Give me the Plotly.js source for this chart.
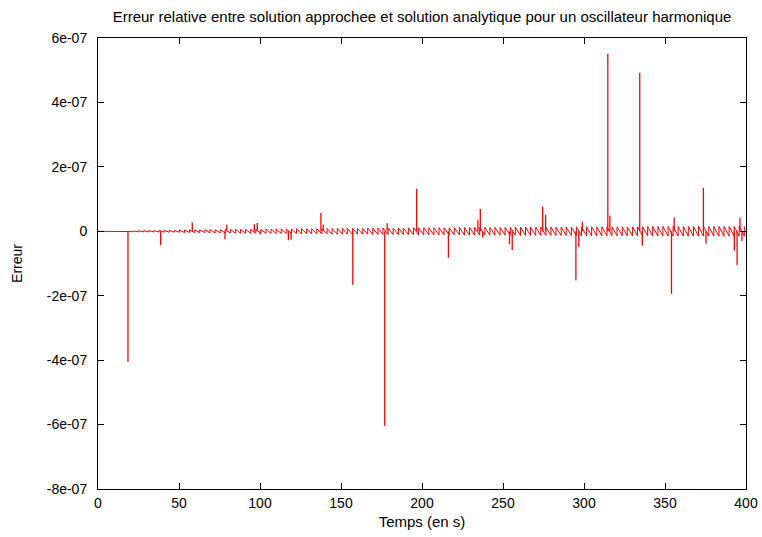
<!DOCTYPE html>
<html>
<head>
<meta charset="utf-8">
<script src="https://cdn.plot.ly/plotly-3.0.1.min.js"></script>
<style>html,body{margin:0;padding:0;background:#fff;}#chart{width:762px;height:537px;}</style>
</head>
<body>
<div id="chart"></div>
<script>
// Values in units of 1e-9 (Erreur), time in seconds
const UNIT = 1e-9;

const waveT = [0,3.1,6.3,9.4,12.6,15.7,18.8,22.0,25.1,28.3,31.4,34.5,37.7,40.8,44.0,47.1,50.3,53.4,56.5,59.7,
62.8,66.0,69.1,72.3,75.4,78.5,81.7,84.8,88.0,91.1,94.2,97.4,100.5,103.7,106.8,110.0,113.1,116.2,119.4,122.5,
125.7,128.8,131.9,135.1,138.2,141.4,144.5,147.7,150.8,153.9,157.1,160.2,163.4,166.5,169.6,172.8,175.9,179.1,182.2,185.4,
188.5,191.6,194.8,197.9,201.1,204.2,207.3,210.5,213.6,216.8,219.9,223.1,226.2,229.3,232.5,235.6,238.8,241.9,245.0,248.2,
251.3,254.5,257.6,260.8,263.9,267.0,270.2,273.3,276.5,279.6,282.7,285.9,289.0,292.2,295.3,298.5,301.6,304.7,307.9,311.0,
314.2,317.3,320.4,323.6,326.7,329.9,333.0,336.2,339.3,342.4,345.6,348.7,351.9,355.0,358.1,361.3,364.4,367.6,370.7,373.8,
377.0,380.1,383.3,386.4,389.6,392.7,395.8,399.0];

const waveHi = [0,0,0,1,1,1, 1,1,2, 2,2,2,3, 3,3,3,4,4,4, 4,4,5,5,5,5,5,6,6,6,6,6,6,
6,7,7,7,7,7,7,8,8,8,8,8,8,9,9,9, 9,9,9,9,9,10,10,10,10,10,10,10,10,11,11,11,
11,11,11,11,11,11,11,12,12,12,12,12,12,12,12,12, 12,12,13,13,13,13,13,13,13,13,13,13,13,13,14,14,
14,14,14,14,14,14,14,14,14,14,14,14,15,15,15,15,15,15,15,15,15,15,15,15,15,15,15,15,15,15,15,15];

const waveLo = [0,0,0,-1,-1,-1, -1,-1,-2, -2,-2,-2,-2, -3,-3,-3,-3,-4,-4, -4,-4,-4,-5,-5,-5,-5,-5,-6,-6,-6,-6,-6,
-6,-6,-7,-7,-7,-7,-7,-7,-8,-8,-8,-8,-8,-8,-9,-9, -9,-9,-9,-9,-9,-9,-10,-10,-10,-10,-10,-10,-10,-10,-11,-11,
-11,-11,-11,-11,-11,-11,-11,-11,-12,-12,-12,-12,-12,-12,-12,-12, -12,-12,-12,-13,-13,-13,-13,-13,-13,-13,-13,-13,-13,-13,-13,-14,
-14,-14,-14,-14,-14,-14,-14,-14,-14,-14,-14,-14,-14,-15,-15,-15,-15,-15,-15,-15,-15,-15,-15,-15,-15,-15,-15,-15,-15,-15,-15,-15];

const spikeT = [18.5,38.7,58.2,78.4,79.5,96.5,98.3,100.0,117.5,119.2,137.6,139.0,157.3,177.0,178.5,196.7,216.3,
234.5,236.0,237.5,254.0,255.7,274.5,276.3,295.0,296.8,299.0,314.7,316.0,334.4,336.0,354.0,355.7,373.7,375.3,
392.8,394.5,396.3,397.5];
const spikeY = [-405,-43,27,-25,20,22,26,-10,-28,-26,57,20,-166,-604,25,132,-82,
36,69,-20,-40,-58,77,51,-152,-48,30,551,48,492,-45,-194,43,135,-39,
-60,-105,42,-30];
const spikeBase = 0;

const xTicks = [0,50,100,150,200,250,300,350,400];
const yTickVals = [-8e-7,-6e-7,-4e-7,-2e-7,0,2e-7,4e-7,6e-7];
const yTickText = ['-8e-07','-6e-07','-4e-07','-2e-07','0','2e-07','4e-07','6e-07'];

// build wave polyline: vertical jump lo->hi at each period start
const wx = [], wy = [];
for (let i = 0; i < waveT.length; i++) {
  wx.push(waveT[i], waveT[i]);
  wy.push(waveLo[i] * UNIT, waveHi[i] * UNIT);
}
// spikes as vertical segments
const sx = [], sy = [];
for (let i = 0; i < spikeT.length; i++) {
  sx.push(spikeT[i], spikeT[i], null);
  sy.push(spikeBase, spikeY[i] * UNIT, null);
}

const fam = 'Liberation Sans, Arial, Helvetica, sans-serif';
const tickFont = {family: fam, size: 14, color: '#000'};
const titleFont = {family: fam, size: 15, color: '#000'};
const traces = [
  {x: wx, y: wy, type: 'scatter', mode: 'lines', line: {color: '#ff0000', width: 1}, hoverinfo: 'skip', showlegend: false},
  {x: sx, y: sy, type: 'scatter', mode: 'lines', line: {color: '#ff0000', width: 1.3}, connectgaps: false, hoverinfo: 'skip', showlegend: false}
];
const axisCommon = {showline: true, linecolor: '#000', linewidth: 1, mirror: 'allticks', ticks: 'inside', ticklen: 6,
  tickcolor: '#000', tickwidth: 1, showgrid: false, zeroline: false, tickfont: tickFont};
const layout = {
  width: 762, height: 537,
  paper_bgcolor: '#fff', plot_bgcolor: '#fff',
  margin: {l: 98, r: 16, t: 38, b: 48},
  font: tickFont,
  title: {text: 'Erreur relative entre solution approchee et solution analytique pour un oscillateur harmonique',
    font: titleFont, x: 0.5, xref: 'paper', xanchor: 'center', y: 1 - 17 / 537, yref: 'container', yanchor: 'middle'},
  xaxis: Object.assign({}, axisCommon, {range: [0, 400], tickmode: 'array', tickvals: xTicks, ticklabelstandoff: 1,
    title: {text: 'Temps (en s)', font: titleFont, standoff: 6}}),
  yaxis: Object.assign({}, axisCommon, {range: [-8e-7, 6e-7], tickmode: 'array', tickvals: yTickVals, ticktext: yTickText,
    ticklabelstandoff: 7, title: {text: 'Erreur', font: tickFont, standoff: 20}}),
  showlegend: false
};
Plotly.newPlot('chart', traces, layout, {displayModeBar: false, staticPlot: true});
</script>
</body>
</html>
